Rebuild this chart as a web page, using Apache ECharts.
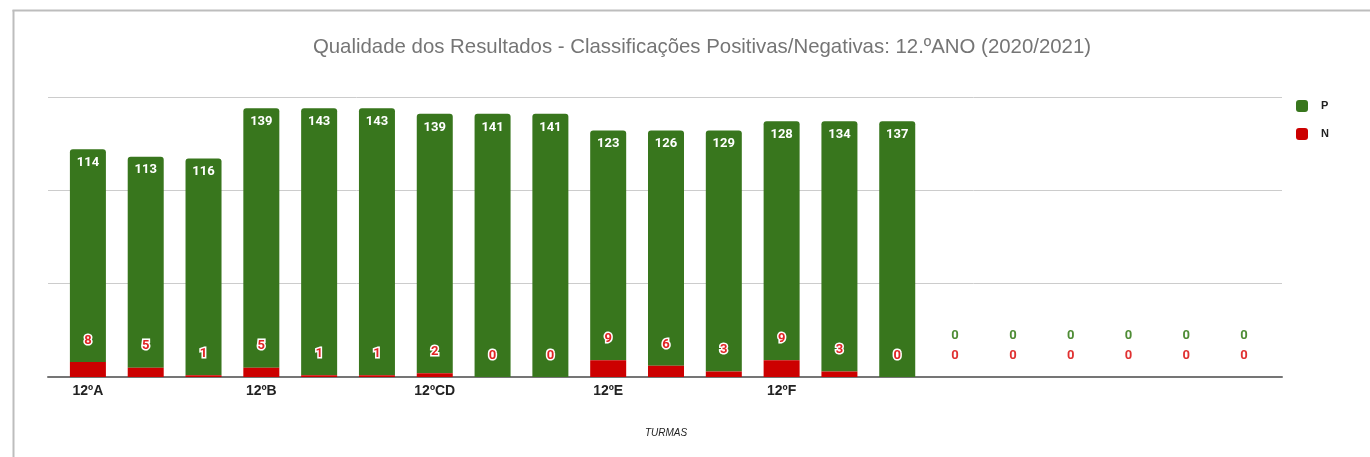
<!DOCTYPE html>
<html>
<head>
<meta charset="utf-8">
<script src="https://cdn.jsdelivr.net/npm/echarts@6/dist/echarts.min.js"></script>
<style>
  html, body { margin: 0; padding: 0; background: #fff; }
  #chart { width: 1370px; height: 457px; }
</style>
</head>
<body>
<div id="chart"></div>
<script>
// Turmas (three rows per class, only the first one labelled) and six empty rows
const categories = [
  '12ºA', '12ºA', '12ºA',
  '12ºB', '12ºB', '12ºB',
  '12ºCD', '12ºCD', '12ºCD',
  '12ºE', '12ºE', '12ºE',
  '12ºF', '12ºF', '12ºF',
  '', '', '', '', '', ''
];
// Classificações positivas (P) e negativas (N)
const positivas = [114, 113, 116, 139, 143, 143, 139, 141, 141, 123, 126, 129, 128, 134, 137, 0, 0, 0, 0, 0, 0];
const negativas = [8, 5, 1, 5, 1, 1, 2, 0, 0, 9, 6, 3, 9, 3, 0, 0, 0, 0, 0, 0, 0];
const yTicks = [0, 50, 100, 150];

const GREEN = '#38761d';
const RED = '#cc0000';

const chart = echarts.init(document.getElementById('chart'));

// Positive bars sit on top of the negatives; empty rows show their 0 above the red 0
const posData = positivas.map((v, i) => {
  if (v === 0 && negativas[i] === 0) {
    return {
      value: v,
      label: {
        position: 'top', distance: 15, offset: [0, -20],
        color: '#4e8c35', textBorderWidth: 0
      }
    };
  }
  return v;
});
const negData = negativas.map((v, i) => {
  if (positivas[i] === 0) {
    return { value: v, label: { color: '#e03131', textBorderWidth: 0 } };
  }
  return v;
});

const TOP = 97, BOTTOM = 80;

chart.setOption({
  animation: false,
  backgroundColor: '#fff',
  title: {
    text: 'Qualidade dos Resultados - Classificações Positivas/Negativas: 12.ºANO (2020/2021)',
    left: 697, top: 32, textAlign: 'center',
    textStyle: { fontFamily: 'Liberation Sans', fontSize: 20.4, fontWeight: 'normal', color: '#757575' }
  },
  legend: {
    orient: 'vertical', left: 1296, top: 100, padding: 0,
    itemWidth: 12, itemHeight: 12, itemGap: 16,
    icon: 'roundRect',
    textStyle: { fontFamily: 'Liberation Sans', fontSize: 11, fontWeight: 'bold', color: '#222', padding: [0, 0, 0, 8] },
    data: ['P', 'N']
  },
  graphic: [
    { type: 'line', shape: { x1: 13.5, y1: 10, x2: 13.5, y2: 457 }, style: { stroke: '#bdbdbd', lineWidth: 2 } },
    { type: 'line', shape: { x1: 12.5, y1: 10.5, x2: 1370, y2: 10.5 }, style: { stroke: '#bdbdbd', lineWidth: 2 } }
  ],
  grid: [
    { left: 48, right: 88, top: TOP, bottom: BOTTOM },
    { left: 59, right: 97, top: TOP, bottom: BOTTOM }
  ],
  xAxis: [
    {
      gridIndex: 0, type: 'value', min: 0, max: 1,
      axisLine: { show: true, onZero: false, lineStyle: { color: '#757575', width: 2 } },
      axisTick: { show: false }, axisLabel: { show: false }, splitLine: { show: false }
    },
    {
      gridIndex: 1, type: 'category', data: categories,
      axisLine: { show: false }, axisTick: { show: false },
      axisLabel: {
        interval: 2, margin: 7,
        fontFamily: 'Liberation Sans', fontSize: 14, fontWeight: 'bold', color: '#222'
      },
      name: 'TURMAS', nameLocation: 'middle', nameGap: 51,
      nameTextStyle: { fontFamily: 'Liberation Sans', fontSize: 10, fontStyle: 'italic', color: '#222' }
    }
  ],
  yAxis: [
    {
      gridIndex: 0, type: 'value', min: yTicks[0], max: yTicks[yTicks.length - 1], interval: 50,
      axisLine: { show: false }, axisTick: { show: false }, axisLabel: { show: false },
      splitLine: { lineStyle: { color: '#cccccc', width: 1 } }
    },
    {
      gridIndex: 1, type: 'value', min: yTicks[0], max: yTicks[yTicks.length - 1], interval: 50,
      axisLine: { show: false }, axisTick: { show: false }, axisLabel: { show: false },
      splitLine: { show: false }
    }
  ],
  series: [
    {
      name: 'N', type: 'bar', xAxisIndex: 1, yAxisIndex: 1, stack: 'total',
      barWidth: 36, data: negData,
      itemStyle: { color: RED },
      label: {
        show: true, position: 'top', distance: 15,
        fontFamily: 'Roboto', fontSize: 13, fontWeight: 'bold',
        color: '#e02424', textBorderColor: '#ffffff', textBorderWidth: 3
      },
      z: 3
    },
    {
      name: 'P', type: 'bar', xAxisIndex: 1, yAxisIndex: 1, stack: 'total',
      barWidth: 36, data: posData,
      itemStyle: { color: GREEN, borderRadius: [3, 3, 0, 0] },
      label: {
        show: true, position: 'insideTop', distance: 7,
        fontFamily: 'Roboto', fontSize: 13, fontWeight: 'bold', color: '#ffffff'
      },
      z: 2
    }
  ]
});
</script>
</body>
</html>
